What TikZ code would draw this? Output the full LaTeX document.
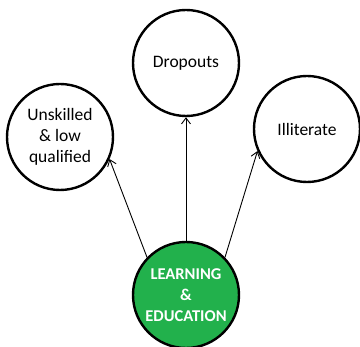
\documentclass[tikz,border=0pt]{standalone}
\usepackage{fontspec}
\setmainfont{Carlito}
\usetikzlibrary{arrows.meta}
\definecolor{lgreen}{RGB}{34,177,76}
\begin{document}
\begin{tikzpicture}[x=1pt,y=-1pt,
  bubble/.style={circle,draw=black,line width=2.4pt,minimum size=106pt,inner sep=0pt,align=center,font=\fontsize{17.5}{21}\selectfont},
  link/.style={-{Straight Barb[length=6pt,width=9pt]},line width=0.9pt}]
\useasboundingbox (0,0) rectangle (360,347);
\node[bubble] (drop) at (186,63) {Dropouts};
\node[bubble] (unsk) at (60,137) {Unskilled\\\& low\\qualified};
\node[bubble] (illit) at (307,129) {Illiterate};
\node[bubble,fill=lgreen,text=white,font=\fontsize{16.5}{21}\selectfont\bfseries] (learn) at (186,295) {LEARNING\\\&\\EDUCATION};
\draw[link] (learn.north) -- (drop.south);
\draw[link] (learn.136) -- (unsk.-24);
\draw[link] (learn.44) -- (illit.-156);
\end{tikzpicture}
\end{document}
